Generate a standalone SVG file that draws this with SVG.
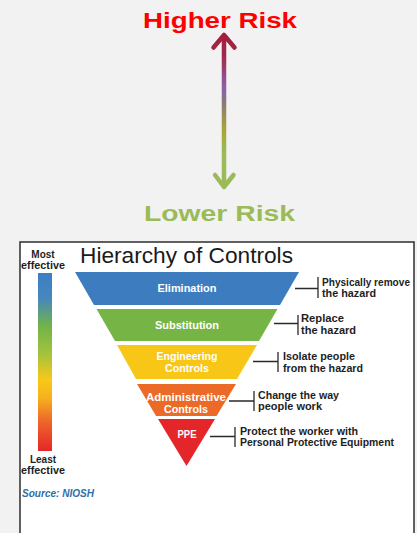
<svg xmlns="http://www.w3.org/2000/svg" width="417" height="533" viewBox="0 0 417 533">
<defs>
<linearGradient id="arrowGrad" gradientUnits="userSpaceOnUse" x1="0" y1="33" x2="0" y2="189">
<stop offset="0" stop-color="#a31c3a"/>
<stop offset="0.15" stop-color="#a02a4c"/>
<stop offset="0.35" stop-color="#8a5fae"/>
<stop offset="0.45" stop-color="#8a7a78"/>
<stop offset="0.62" stop-color="#aaa634"/>
<stop offset="0.78" stop-color="#9bbb59"/>
<stop offset="1" stop-color="#9bbb59"/>
</linearGradient>
<linearGradient id="barGrad" x1="0" y1="0" x2="0" y2="1">
<stop offset="0" stop-color="#3b7fc4"/>
<stop offset="0.14" stop-color="#4786be"/>
<stop offset="0.3" stop-color="#72b34a"/>
<stop offset="0.45" stop-color="#a2c23c"/>
<stop offset="0.6" stop-color="#f8c81a"/>
<stop offset="0.7" stop-color="#f6b21c"/>
<stop offset="0.83" stop-color="#ee682b"/>
<stop offset="1" stop-color="#e52629"/>
</linearGradient>
<style>
.band-label{font-family:"Liberation Sans",Arial,sans-serif;font-weight:bold;font-size:10.5px;fill:#ffffff;text-anchor:middle}
.desc{font-family:"Liberation Sans",Arial,sans-serif;font-weight:bold;font-size:11px;fill:#1e1e1e}
.side{font-family:"Liberation Sans",Arial,sans-serif;font-weight:bold;font-size:10px;fill:#1e1e1e;text-anchor:middle}
.conn{stroke:#2a2a2a;stroke-width:1.3;fill:none}
</style>
</defs>
<rect x="0" y="0" width="417" height="533" fill="#f2f2f2"/>
<g id="risk-scale">
<text x="143" y="28" font-family="Liberation Sans,Arial,sans-serif" font-weight="bold" font-size="22" fill="#ff0000" textLength="154" lengthAdjust="spacingAndGlyphs">Higher Risk</text>
<path d="M224,36 L224,187 M213.5,47.5 L224,35 L234.5,47.5 M215,175 L224,187 L233.5,175" fill="none" stroke="url(#arrowGrad)" stroke-width="4.5" stroke-linecap="round" stroke-linejoin="round"/>
<text x="144" y="221" font-family="Liberation Sans,Arial,sans-serif" font-weight="bold" font-size="22" fill="#9bbb59" textLength="151" lengthAdjust="spacingAndGlyphs">Lower Risk</text>
</g>
<g id="panel">
<rect x="20" y="242" width="394" height="300" fill="#ffffff" stroke="#3a3a3a" stroke-width="1.6"/>
<text x="80" y="263" font-family="Liberation Sans,Arial,sans-serif" font-size="22" fill="#1a1a1a" textLength="213" lengthAdjust="spacingAndGlyphs">Hierarchy of Controls</text>
</g>
<g id="effectiveness-bar">
<text class="side" x="43" y="258">Most</text>
<text class="side" x="43" y="269" textLength="44" lengthAdjust="spacingAndGlyphs">effective</text>
<rect x="38" y="273" width="14" height="178" fill="url(#barGrad)"/>
<text class="side" x="43" y="463">Least</text>
<text class="side" x="43" y="474" textLength="44" lengthAdjust="spacingAndGlyphs">effective</text>
<text x="22" y="497" font-family="Liberation Sans,Arial,sans-serif" font-weight="bold" font-style="italic" font-size="10" fill="#2f6ea8" textLength="72" lengthAdjust="spacingAndGlyphs">Source: NIOSH</text>
</g>
<g id="connectors">
<path class="conn" d="M295,288.5 H318 M318,277 V298"/>
<path class="conn" d="M274,323.5 H298 M298,315 V335"/>
<path class="conn" d="M253,361.5 H278 M278,352 V372"/>
<path class="conn" d="M229,401 H254 M254,391 V411"/>
<path class="conn" d="M210,436.5 H235 M235,427 V447"/>
</g>
<g id="elimination">
<polygon points="75,272 299,272 280,305 94,305" fill="#3d7dbf"/>
<text class="band-label" x="187" y="292" textLength="59" lengthAdjust="spacingAndGlyphs">Elimination</text>
<text class="desc" x="322" y="286" textLength="88" lengthAdjust="spacingAndGlyphs">Physically remove</text>
<text class="desc" x="322" y="297" textLength="54" lengthAdjust="spacingAndGlyphs">the hazard</text>
</g>
<g id="substitution">
<polygon points="96.5,309 277.5,309 259,341 115,341" fill="#76b545"/>
<text class="band-label" x="187" y="329" textLength="64" lengthAdjust="spacingAndGlyphs">Substitution</text>
<text class="desc" x="301" y="322" textLength="43" lengthAdjust="spacingAndGlyphs">Replace</text>
<text class="desc" x="301" y="334" textLength="55" lengthAdjust="spacingAndGlyphs">the hazard</text>
</g>
<g id="engineering">
<polygon points="117,345 257,345 237,379 136,379" fill="#f8c616"/>
<text class="band-label" x="187" y="360" textLength="61" lengthAdjust="spacingAndGlyphs" fill="#fdf3cf">Engineering</text>
<text class="band-label" x="187" y="372" textLength="44" lengthAdjust="spacingAndGlyphs">Controls</text>
<text class="desc" x="283" y="360" textLength="72" lengthAdjust="spacingAndGlyphs">Isolate people</text>
<text class="desc" x="283" y="372" textLength="80" lengthAdjust="spacingAndGlyphs">from the hazard</text>
</g>
<g id="administrative">
<polygon points="137,384 236,384 216.5,416 156,416" fill="#ec6a28"/>
<text class="band-label" x="186" y="401" font-size="10" textLength="80" lengthAdjust="spacingAndGlyphs">Administrative</text>
<text class="band-label" x="186" y="413" textLength="44" lengthAdjust="spacingAndGlyphs">Controls</text>
<text class="desc" x="258" y="399" textLength="81" lengthAdjust="spacingAndGlyphs">Change the way</text>
<text class="desc" x="258" y="410" textLength="64" lengthAdjust="spacingAndGlyphs">people work</text>
</g>
<g id="ppe">
<polygon points="158,419 215,419 186.5,466" fill="#e4262a"/>
<text class="band-label" x="187" y="438" textLength="19" lengthAdjust="spacingAndGlyphs">PPE</text>
<text class="desc" x="240" y="435" textLength="118" lengthAdjust="spacingAndGlyphs">Protect the worker with</text>
<text class="desc" x="240" y="446" textLength="154" lengthAdjust="spacingAndGlyphs">Personal Protective Equipment</text>
</g>
</svg>
